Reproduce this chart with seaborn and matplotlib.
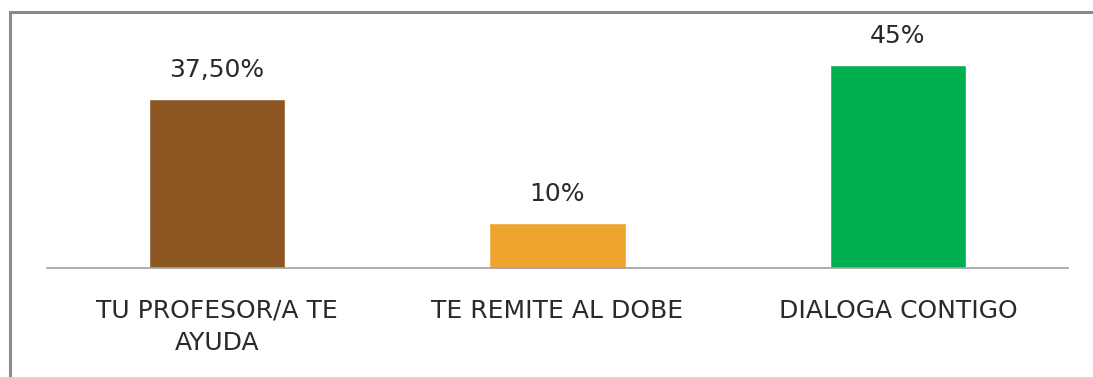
import matplotlib
matplotlib.use("Agg")
import matplotlib.pyplot as plt
from matplotlib.patches import Rectangle
import seaborn as sns
import pandas as pd

categories = ["TU PROFESOR/A TE\nAYUDA", "TE REMITE AL DOBE", "DIALOGA CONTIGO"]
values = [37.5, 10, 45]
value_labels = ["37,50%", "10%", "45%"]
colors = ["#8C5722", "#F0A430", "#00B050"]

sns.set_theme(style="white")
plt.rcParams["font.family"] = ["DejaVu Sans"]

df = pd.DataFrame({"cat": categories, "val": values})

fig = plt.figure(figsize=(10.93, 3.77), dpi=100)
ax = fig.add_axes([47 / 1093, 109 / 377, 1021 / 1093, 225.5 / 377])

sns.barplot(data=df, x="cat", y="val", hue="cat", palette=colors,
            width=0.4, legend=False, ax=ax, saturation=1)

for cont, lab in zip(ax.containers, value_labels):
    ax.bar_label(cont, labels=[lab], padding=12, fontsize=18, color="#2a2a2a")

ax.set_ylim(0, 50)
ax.set_xlim(-0.5, 2.5)
ax.set_xlabel("")
ax.set_ylabel("")
ax.set_yticks([])
for s in ["left", "right", "top"]:
    ax.spines[s].set_visible(False)
ax.spines["bottom"].set_color("#a0a0a0")
ax.spines["bottom"].set_linewidth(1.2)
ax.tick_params(axis="x", length=0, pad=22, labelsize=18, labelcolor="#2a2a2a")
for t in ax.get_xticklabels():
    t.set_linespacing(1.45)
    t.set_verticalalignment("top")

# chart frame
fig.add_artist(Rectangle((10 / 1093, -0.2), 1.2, (377 - 12) / 377 + 0.2,
                         transform=fig.transFigure, fill=False,
                         edgecolor="#8a8a8a", linewidth=2.2, clip_on=False))

fig.savefig("out.png", dpi=100)
